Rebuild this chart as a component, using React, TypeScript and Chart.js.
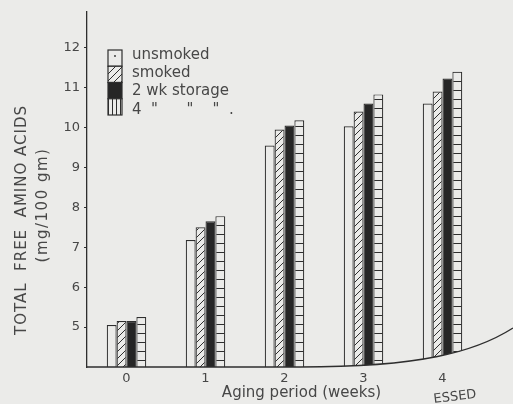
import React, { useEffect, useRef } from "react";
import { Chart, registerables } from "chart.js";

Chart.register(...registerables);

const categories = ["0", "1", "2", "3", "4"];
const seriesLabels = ["unsmoked", "smoked", "2 wk storage", '4  "      "    "  .'];
const unsmoked = [5.05, 7.18, 9.55, 10.03, 10.6];
const smoked = [5.15, 7.5, 9.95, 10.4, 10.9];
const storage2wk = [5.15, 7.65, 10.05, 10.6, 11.23];
const storage4wk = [5.25, 7.78, 10.18, 10.83, 11.4];
const yTickValues = [5, 6, 7, 8, 9, 10, 11, 12];
const yTitleLines = ["TOTAL  FREE  AMINO ACIDS", "(mg/100 gm)"];
const xTitle = "Aging period (weeks)";

const BG = "#ebebe9";
const INK = "#2e2e2e";
const TEXT = "#474747";
const FONT = "'DejaVu Sans', sans-serif";

function makeTile(w: number, h: number, draw: (c: CanvasRenderingContext2D) => void) {
  const cv = document.createElement("canvas");
  cv.width = w;
  cv.height = h;
  const c = cv.getContext("2d")!;
  c.fillStyle = BG;
  c.fillRect(0, 0, w, h);
  c.strokeStyle = INK;
  c.lineWidth = 1;
  draw(c);
  return cv;
}

export default function App() {
  const ref = useRef<HTMLCanvasElement | null>(null);

  useEffect(() => {
    document.body.style.margin = "0";
    document.body.style.background = BG;
    const canvas = ref.current!;
    const ctx = canvas.getContext("2d")!;

    const hatchTile = makeTile(7, 7, (c) => {
      c.beginPath();
      c.moveTo(-1, 8);
      c.lineTo(8, -1);
      c.moveTo(-1, 1);
      c.lineTo(1, -1);
      c.moveTo(6, 8);
      c.lineTo(8, 6);
      c.stroke();
    });
    const hLineTile = makeTile(4, 9, (c) => {
      c.beginPath();
      c.moveTo(0, 0.5);
      c.lineTo(4, 0.5);
      c.stroke();
    });
    const vLineTile = makeTile(4, 4, (c) => {
      c.beginPath();
      c.moveTo(0.5, 0);
      c.lineTo(0.5, 4);
      c.stroke();
    });
    const hatch = ctx.createPattern(hatchTile, "repeat")!;
    const hLines = ctx.createPattern(hLineTile, "repeat")!;
    const vLines = ctx.createPattern(vLineTile, "repeat")!;

    const fills = [BG, hatch, "#262626", hLines];
    const legendFills = [BG, hatch, "#262626", vLines];

    const decor = {
      id: "decor",
      afterDatasetsDraw(chart: any) {
        const c = chart.ctx as CanvasRenderingContext2D;
        const { left, right, bottom } = chart.chartArea;
        const W = chart.width;
        const xs = left + (right - left) * 0.54;
        c.save();
        // page-curved baseline: hide bar ends below the curve
        c.beginPath();
        c.moveTo(xs, bottom);
        c.bezierCurveTo(xs + 120, bottom, xs + 175, bottom - 15, W, bottom - 39);
        c.lineTo(W, bottom + 2);
        c.lineTo(xs, bottom + 2);
        c.closePath();
        c.fillStyle = BG;
        c.fill();
        c.beginPath();
        c.moveTo(left, bottom);
        c.lineTo(xs, bottom);
        c.bezierCurveTo(xs + 120, bottom, xs + 175, bottom - 15, W, bottom - 39);
        c.strokeStyle = INK;
        c.lineWidth = 1.3;
        c.stroke();
        c.restore();
      },
      afterDraw(chart: any) {
        const c = chart.ctx as CanvasRenderingContext2D;
        const { left, right, bottom } = chart.chartArea;
        c.save();
        // legend
        const bx = left + 21;
        const by = 50;
        const bw = 14;
        const bh = 16.25;
        chart.data.datasets.forEach((ds: any, i: number) => {
          const y = by + i * bh;
          c.fillStyle = legendFills[i] as any;
          c.fillRect(bx, y, bw, bh);
          c.strokeStyle = INK;
          c.lineWidth = 1.2;
          c.strokeRect(bx, y, bw, bh);
          if (i === 0) {
            c.fillStyle = INK;
            c.beginPath();
            c.arc(bx + bw / 2, y + 6, 0.9, 0, Math.PI * 2);
            c.fill();
          }
          c.fillStyle = TEXT;
          c.font = `15px ${FONT}`;
          c.textAlign = "left";
          c.textBaseline = "middle";
          c.fillText(ds.label, bx + bw + 10, 55 + i * 18.3);
        });
        // y title
        c.fillStyle = TEXT;
        c.font = `15px ${FONT}`;
        c.textAlign = "center";
        c.textBaseline = "middle";
        c.save();
        (c as any).letterSpacing = "1px";
        c.translate(22, 220);
        c.rotate(-Math.PI / 2);
        c.fillText(yTitleLines[0], 0, 0);
        c.restore();
        c.save();
        (c as any).letterSpacing = "1.5px";
        c.translate(43, 205);
        c.rotate(-Math.PI / 2);
        c.fillText(yTitleLines[1], 0, 0);
        c.restore();
        // x title
        c.fillText(xTitle, left + (right - left) * 0.543, bottom + 26);
        // page fragment text
        c.save();
        c.translate(right - 27, bottom + 30);
        c.rotate(-0.12);
        c.font = `13px ${FONT}`;
        c.fillText("ESSED", 0, 0);
        c.restore();
        c.restore();
      },
    };

    const values = [unsmoked, smoked, storage2wk, storage4wk];
    const chart = new Chart(canvas, {
      type: "bar",
      data: {
        labels: categories,
        datasets: values.map((v, i) => ({
          label: seriesLabels[i],
          data: v,
          backgroundColor: fills[i] as any,
          borderColor: INK,
          borderWidth: 1.2,
          borderSkipped: false,
          categoryPercentage: 0.5,
          barPercentage: 1.0,
        })),
      },
      options: {
        animation: false,
        responsive: true,
        maintainAspectRatio: false,
        layout: { padding: { left: 0, top: 10, right: 31, bottom: 0 } },
        plugins: {
          legend: { display: false },
          tooltip: { enabled: false },
        },
        scales: {
          x: {
            grid: { display: false, drawTicks: false },
            border: { display: false },
            ticks: { color: TEXT, font: { family: FONT, size: 13 }, padding: 4 },
            afterFit: (s: any) => {
              s.height = 37;
            },
          },
          y: {
            min: 4,
            max: 12.9,
            afterBuildTicks: (s: any) => {
              s.ticks = yTickValues.map((v) => ({ value: v }));
            },
            grid: { drawOnChartArea: false, drawTicks: true, tickLength: 3, color: INK },
            border: { display: true, color: INK, width: 1.3 },
            ticks: { color: TEXT, font: { family: FONT, size: 13 }, padding: 4 },
            afterFit: (s: any) => {
              s.width = 87;
            },
          },
        },
      },
      plugins: [decor],
    });
    return () => chart.destroy();
  }, []);

  return (
    <div style={{ width: 513, height: 404, position: "relative", background: BG }}>
      <canvas ref={ref} />
    </div>
  );
}
